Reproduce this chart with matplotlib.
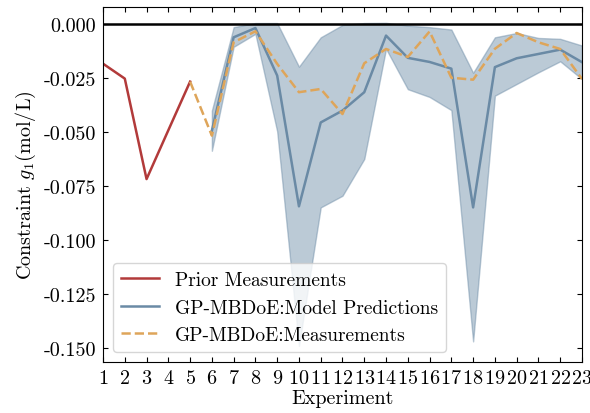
import numpy as np
import matplotlib
matplotlib.use("Agg")
import matplotlib.pyplot as plt

plt.rcParams['font.family'] = 'serif'
plt.rcParams['font.serif'] = ['cmr10']
plt.rcParams['mathtext.fontset'] = 'cm'
plt.rcParams['axes.formatter.use_mathtext'] = True

# Prior experiments
prior_exp = [1, 2, 3, 4, 5]
prior_g1 = [-0.0184, -0.0253, -0.0718, -0.0492, -0.0267]

# Measured constraint during the GP-MBDoE campaign (starts at last prior point)
meas_exp = list(range(5, 24))
meas_g1 = [-0.0267, -0.0517, -0.0085, -0.0034, -0.0185, -0.0316, -0.0301,
           -0.0417, -0.0182, -0.0116, -0.0153, -0.0035, -0.0249, -0.0258,
           -0.0115, -0.0042, -0.0085, -0.0116, -0.0255]

# GP model predictions and confidence band
pred_exp = list(range(6, 24))
pred_g1 = [-0.0494, -0.0062, -0.0019, -0.0239, -0.0844, -0.0456, -0.0401,
           -0.0316, -0.0054, -0.0157, -0.0176, -0.0207, -0.0849, -0.0200,
           -0.0159, -0.0139, -0.0119, -0.0177]
pred_upper = [-0.0401, -0.0015, 0.0004, 0.0004, -0.0198, -0.0062, -0.0005,
              0.0004, 0.0005, -0.0008, -0.0015, -0.0026, -0.0226, -0.0062,
              -0.0042, -0.0065, -0.0069, -0.0100]
pred_lower = [-0.0587, -0.0106, -0.0046, -0.0497, -0.1490, -0.0849, -0.0795,
              -0.0625, -0.0115, -0.0302, -0.0338, -0.0399, -0.1469, -0.0332,
              -0.0278, -0.0224, -0.0173, -0.0255]

red = '#b23a3a'
blue = '#6a8aa5'
orange = '#dea55a'

fig = plt.figure(figsize=(5.9, 4.14), dpi=100)
ax = fig.add_axes([0.1746, 0.1239, 0.8118, 0.8561])

ax.axhline(0, color='k', lw=1.8, zorder=5)
ax.plot(prior_exp, prior_g1, color=red, lw=1.8, label='Prior Measurements')
ax.plot(pred_exp, pred_g1, color=blue, lw=1.8, label='GP-MBDoE:Model Predictions')
ax.fill_between(pred_exp, pred_lower, pred_upper, color=blue, alpha=0.45, lw=1)
ax.plot(meas_exp, meas_g1, color=orange, lw=1.8, ls='--', label='GP-MBDoE:Measurements')

ax.set_xlim(1, 23)
ax.set_ylim(-0.1563, 0.0077)
ax.set_xticks(range(1, 24))
ax.set_yticks([0, -0.025, -0.05, -0.075, -0.1, -0.125, -0.15])
ax.yaxis.set_major_formatter(matplotlib.ticker.FormatStrFormatter('%.3f'))
ax.tick_params(direction='in', top=True, right=True, labelsize=14.5, pad=5)

ax.set_xlabel('Experiment', fontsize=14.5, labelpad=2)
ax.set_ylabel(r'Constraint $g_1(\mathrm{mol/L})$', fontsize=14.5)

ax.legend(loc='lower left', fontsize=14, framealpha=0.8)

fig.savefig('out.png', dpi=100)
